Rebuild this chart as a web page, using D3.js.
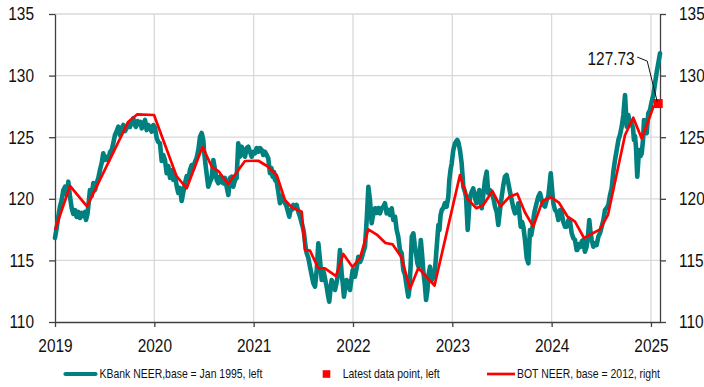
<!DOCTYPE html>
<html>
<head>
<meta charset="utf-8">
<script src="https://cdn.jsdelivr.net/npm/d3@7/dist/d3.min.js"></script>
<style>
  html, body { margin: 0; padding: 0; background: #ffffff; }
  svg { display: block; }
  text { font-family: "Liberation Sans", Arial, sans-serif; fill: #111; }
</style>
</head>
<body>
<svg id="chart" width="704" height="387"></svg>
<script>
// KBank NEER (base = Jan 1995), left axis: [decimal year, index]
const kbankNeer = [
  [2019.000,116.82],[2019.020,117.79],[2019.033,118.55],[2019.050,119.36],[2019.067,119.90],[2019.084,120.70],
  [2019.101,120.98],[2019.118,120.30],[2019.134,121.39],[2019.151,120.17],[2019.168,119.25],[2019.184,118.77],
  [2019.201,119.09],[2019.218,118.52],[2019.235,118.93],[2019.252,118.44],[2019.269,118.85],[2019.285,118.60],
  [2019.302,118.93],[2019.312,118.28],[2019.327,118.77],[2019.342,119.90],[2019.352,120.71],[2019.369,120.23],
  [2019.386,121.28],[2019.403,120.71],[2019.420,121.28],[2019.436,121.69],[2019.453,122.34],[2019.470,122.90],
  [2019.486,123.69],[2019.503,123.15],[2019.520,123.39],[2019.537,123.15],[2019.554,123.80],[2019.571,123.96],
  [2019.587,124.53],[2019.604,125.18],[2019.621,125.50],[2019.637,125.85],[2019.654,125.18],[2019.672,125.75],
  [2019.688,125.99],[2019.705,125.50],[2019.722,125.75],[2019.738,126.07],[2019.755,125.83],[2019.772,126.23],
  [2019.788,126.53],[2019.805,125.99],[2019.815,125.83],[2019.831,126.31],[2019.846,126.07],[2019.861,126.23],
  [2019.873,125.72],[2019.889,126.07],[2019.906,126.40],[2019.923,125.58],[2019.939,125.99],[2019.956,125.83],
  [2019.973,125.45],[2019.990,125.99],[2020.007,125.75],
  [2020.024,124.91],[2020.040,124.61],[2020.057,124.50],[2020.074,123.07],[2020.090,123.56],[2020.107,123.15],
  [2020.124,122.07],[2020.141,122.66],[2020.158,121.69],[2020.175,122.34],[2020.191,121.53],[2020.208,121.93],
  [2020.225,121.04],[2020.241,120.47],[2020.258,120.88],[2020.275,119.82],[2020.292,120.55],[2020.309,121.28],
  [2020.326,121.85],[2020.342,121.53],[2020.359,122.34],[2020.376,122.74],[2020.392,122.50],[2020.409,122.99],
  [2020.426,123.31],[2020.443,123.96],[2020.460,125.04],[2020.477,125.34],[2020.493,124.77],[2020.500,123.96],
  [2020.510,123.15],[2020.527,122.01],[2020.543,120.98],[2020.560,121.37],[2020.577,121.69],[2020.594,123.15],
  [2020.611,122.34],[2020.628,121.53],[2020.644,121.26],[2020.661,121.80],[2020.678,121.37],[2020.694,121.26],
  [2020.711,121.69],[2020.728,120.98],[2020.745,120.31],[2020.762,121.69],[2020.779,121.80],[2020.795,120.98],
  [2020.812,121.53],[2020.829,121.69],[2020.845,124.50],[2020.862,123.42],[2020.879,124.23],[2020.896,123.69],
  [2020.913,123.42],[2020.930,124.12],[2020.946,124.23],[2020.963,123.82],[2020.980,123.42],[2020.996,123.80],
  [2021.013,123.69],[2021.030,124.12],[2021.047,123.82],[2021.064,124.12],[2021.081,123.96],[2021.097,123.56],
  [2021.114,123.82],[2021.131,123.56],[2021.147,123.29],[2021.164,122.07],[2021.179,122.50],[2021.191,121.80],
  [2021.205,122.18],[2021.215,121.53],[2021.232,121.37],[2021.248,120.58],[2021.265,119.64],[2021.282,120.23],
  [2021.299,119.90],[2021.316,119.66],[2021.332,119.36],[2021.346,118.93],[2021.359,118.55],[2021.371,119.09],
  [2021.383,119.09],[2021.399,119.50],[2021.416,119.25],[2021.433,119.50],[2021.450,118.93],[2021.467,118.55],
  [2021.484,118.01],[2021.497,117.63],[2021.507,117.20],[2021.520,116.25],[2021.534,115.58],[2021.551,115.19],
  [2021.567,114.49],[2021.584,113.81],[2021.601,113.14],[2021.618,112.87],[2021.635,114.22],[2021.651,116.39],
  [2021.668,115.03],[2021.685,113.41],[2021.698,114.22],[2021.708,113.95],[2021.721,113.41],[2021.735,112.87],
  [2021.748,112.19],[2021.761,111.65],[2021.773,112.60],[2021.785,113.41],[2021.802,113.00],[2021.819,112.60],
  [2021.836,113.25],[2021.852,113.95],[2021.869,115.84],[2021.886,113.95],[2021.899,113.00],[2021.909,112.05],
  [2021.919,112.60],[2021.936,113.41],[2021.953,113.00],[2021.970,112.60],[2021.983,113.41],[2021.997,114.22],
  [2022.010,114.06],[2022.020,113.68],[2022.037,114.38],[2022.054,115.30],[2022.071,114.87],[2022.087,115.17],
  [2022.104,115.68],[2022.121,116.11],[2022.138,118.28],[2022.155,120.98],[2022.171,119.90],[2022.188,118.01],
  [2022.205,118.82],[2022.222,119.23],[2022.239,118.85],[2022.255,119.25],[2022.272,118.82],[2022.289,119.25],
  [2022.306,119.36],[2022.322,119.64],[2022.339,118.82],[2022.356,119.09],[2022.373,118.69],[2022.390,119.23],
  [2022.406,118.28],[2022.423,118.55],[2022.440,117.47],[2022.456,116.92],[2022.473,115.84],[2022.490,115.58],
  [2022.507,114.22],[2022.524,113.81],[2022.541,112.87],[2022.557,112.05],[2022.567,112.60],[2022.580,114.49],
  [2022.592,116.92],[2022.608,117.20],[2022.622,116.25],[2022.635,115.58],[2022.649,114.76],[2022.659,114.49],
  [2022.676,115.84],[2022.683,116.66],[2022.696,115.44],[2022.710,113.95],[2022.724,113.00],[2022.736,111.79],
  [2022.750,112.60],[2022.760,113.81],[2022.776,114.49],[2022.794,113.41],[2022.810,113.68],[2022.826,114.22],
  [2022.843,116.11],[2022.860,117.87],[2022.870,117.47],[2022.882,118.69],[2022.894,119.09],[2022.910,119.25],
  [2022.926,119.66],[2022.943,119.36],[2022.960,120.17],[2022.970,121.53],[2022.982,122.34],[2022.994,122.88],
  [2023.010,123.96],[2023.027,124.50],[2023.042,124.69],[2023.050,124.77],[2023.060,124.61],[2023.077,123.96],
  [2023.094,122.88],[2023.111,120.98],[2023.128,120.55],[2023.138,120.17],[2023.155,117.47],[2023.168,119.09],
  [2023.178,120.17],[2023.195,120.55],[2023.211,120.85],[2023.228,120.07],[2023.245,119.64],[2023.258,120.31],
  [2023.272,120.71],[2023.284,119.90],[2023.296,119.23],[2023.312,120.31],[2023.329,121.53],[2023.346,122.20],
  [2023.362,120.45],[2023.379,120.71],[2023.396,120.45],[2023.413,120.07],[2023.430,119.36],[2023.447,118.93],
  [2023.463,117.87],[2023.480,119.09],[2023.497,120.17],[2023.514,121.12],[2023.530,121.80],[2023.547,121.93],
  [2023.564,121.26],[2023.581,120.55],[2023.598,119.90],[2023.615,119.25],[2023.631,118.82],[2023.648,118.95],
  [2023.665,119.64],[2023.677,118.69],[2023.689,117.74],[2023.702,118.12],[2023.715,117.74],[2023.732,116.66],
  [2023.749,115.19],[2023.766,114.76],[2023.782,117.47],[2023.795,117.06],[2023.809,117.74],[2023.822,118.69],
  [2023.832,119.09],[2023.849,119.66],[2023.866,120.17],[2023.883,120.45],[2023.900,119.90],[2023.916,119.50],
  [2023.933,119.36],[2023.950,119.90],[2023.966,120.17],[2023.979,121.12],[2023.991,122.07],[2024.001,121.12],
  [2024.011,120.17],[2024.017,119.64],[2024.034,119.09],[2024.051,118.93],[2024.068,118.28],[2024.085,119.09],
  [2024.101,118.82],[2024.118,118.12],[2024.135,117.74],[2024.152,117.74],[2024.169,118.28],[2024.186,118.12],
  [2024.202,117.20],[2024.219,116.79],[2024.235,116.66],[2024.252,115.84],[2024.258,115.84],[2024.275,116.33],
  [2024.292,116.11],[2024.305,116.57],[2024.319,116.66],[2024.335,115.71],[2024.352,116.11],[2024.366,116.98],
  [2024.379,118.28],[2024.391,117.31],[2024.403,116.66],[2024.420,116.11],[2024.437,116.39],[2024.453,116.25],
  [2024.470,116.92],[2024.487,117.22],[2024.504,117.74],[2024.521,118.28],[2024.537,119.09],[2024.554,119.25],
  [2024.571,119.50],[2024.588,120.31],[2024.605,120.88],[2024.621,122.18],[2024.638,123.15],[2024.655,123.96],
  [2024.672,124.77],[2024.688,125.18],[2024.705,125.85],[2024.722,126.80],[2024.739,128.43],[2024.756,125.85],
  [2024.772,126.80],[2024.789,125.99],[2024.806,126.13],[2024.819,125.75],[2024.829,124.77],[2024.839,125.10],
  [2024.849,124.23],[2024.862,121.79],[2024.873,123.15],[2024.883,123.96],[2024.895,123.47],[2024.907,123.69],
  [2024.920,124.77],[2024.930,126.40],[2024.943,125.75],[2024.957,125.32],[2024.973,126.94],[2024.990,127.20],
  [2025.007,127.88],[2025.024,128.43],[2025.041,129.37],[2025.058,130.29],[2025.074,131.00],[2025.091,131.81]
];

// BOT NEER (base = 2012), right axis: [decimal year, index]
const botNeer = [
  [2019.000,117.47],[2019.151,121.04],[2019.322,119.38],[2019.738,126.26],[2019.829,126.86],[2019.997,126.80],
  [2020.223,121.85],[2020.326,120.85],[2020.485,124.23],[2020.578,122.60],[2020.651,122.20],[2020.742,121.20],
  [2020.913,123.07],[2021.047,123.09],[2021.147,122.60],[2021.232,121.93],[2021.315,119.90],[2021.383,119.31],
  [2021.484,118.95],[2021.517,115.84],[2021.567,115.79],[2021.651,114.36],[2021.718,114.36],[2021.829,113.73],
  [2021.902,115.52],[2021.995,114.46],[2022.071,115.20],[2022.154,117.52],[2022.239,117.10],[2022.327,116.41],
  [2022.400,116.30],[2022.486,115.28],[2022.574,112.70],[2022.658,114.38],[2022.821,112.96],[2023.077,121.93],
  [2023.153,119.98],[2023.243,119.23],[2023.312,119.50],[2023.404,120.63],[2023.485,119.36],[2023.576,120.17],
  [2023.654,120.41],[2023.732,118.89],[2023.815,117.74],[2023.908,119.82],[2023.993,120.12],[2024.074,119.68],
  [2024.158,118.58],[2024.235,118.14],[2024.326,116.82],[2024.487,117.52],[2024.567,118.69],[2024.739,125.18],
  [2024.822,126.58],[2024.907,124.90],[2024.983,126.53],[2025.023,127.45],[2025.073,127.73]
];

// Latest data point (left axis)
const latestPoint = [[2025.073, 127.73]];

// Axis ticks
const yearTicks = [2019, 2020, 2021, 2022, 2023, 2024, 2025];
const valueTicks = [110, 115, 120, 125, 130, 135];

// Legend entries
const legendLabels = ["KBank NEER,base = Jan 1995, left", "Latest data point, left", "BOT NEER, base = 2012, right"];

const TEAL = "#00807f", RED = "#ff0000", GRID = "#d9d9d9", AXIS = "#404040";
const FONT_TICK = 18.6, FONT_LEGEND = 12.6, NARROW = 0.83;

const svg = d3.select("#chart");
const m = { left: 55, right: 660, top: 14, bottom: 322 };

const x = d3.scaleLinear().domain([2019, 2025.091]).range([m.left, m.right]);
const yLeft = d3.scaleLinear().domain([110, 135]).range([m.bottom, m.top]);
const yRight = d3.scaleLinear().domain([110, 135]).range([m.bottom, m.top]);

// Narrow-width text: squeeze glyphs horizontally around each text's anchor x
function condense(sel) {
  sel.each(function () {
    const t = d3.select(this);
    const ax = +t.attr("x") || 0;
    t.attr("transform", `translate(${ax},0) scale(${NARROW},1) translate(${-ax},0)`);
  });
}

// Gridlines
const grid = svg.append("g");
grid.selectAll("line.h").data(valueTicks.filter(v => v > 110)).join("line")
  .attr("x1", m.left).attr("x2", m.right)
  .attr("y1", d => yLeft(d)).attr("y2", d => yLeft(d))
  .attr("stroke", GRID).attr("stroke-width", 1.3);
grid.selectAll("line.v").data(yearTicks.filter(v => v > 2019)).join("line")
  .attr("x1", d => x(d)).attr("x2", d => x(d))
  .attr("y1", m.top).attr("y2", m.bottom)
  .attr("stroke", GRID).attr("stroke-width", 1.3);

// Axes
function styleAxis(g) {
  g.select(".domain").attr("stroke", AXIS).attr("stroke-width", 1.3);
  g.selectAll(".tick line").attr("stroke", AXIS).attr("stroke-width", 1.3);
  g.selectAll(".tick text").attr("font-size", FONT_TICK).attr("fill", "#111")
    .attr("font-family", "'Liberation Sans', Arial, sans-serif")
    .call(condense);
}

svg.append("g").attr("transform", `translate(${m.left},0)`)
  .call(d3.axisLeft(yLeft).tickValues(valueTicks).tickSize(6).tickSizeOuter(0).tickPadding(15))
  .call(styleAxis);

svg.append("g").attr("transform", `translate(${m.right},0)`)
  .call(d3.axisRight(yRight).tickValues(valueTicks).tickSize(6).tickSizeOuter(0).tickPadding(13))
  .call(styleAxis);

svg.append("g").attr("transform", `translate(0,${m.bottom})`)
  .call(d3.axisBottom(x).tickValues(yearTicks).tickFormat(d3.format("d")).tickSize(5).tickSizeOuter(0).tickPadding(12))
  .call(styleAxis);

// Series
const kbLine = d3.line().x(d => x(d[0])).y(d => yLeft(d[1]));
const botLine = d3.line().x(d => x(d[0])).y(d => yRight(d[1]));

svg.append("path").datum(kbankNeer)
  .attr("d", kbLine).attr("fill", "none")
  .attr("stroke", TEAL).attr("stroke-width", 4.6)
  .attr("stroke-linejoin", "round").attr("stroke-linecap", "round");

svg.append("path").datum(botNeer)
  .attr("d", botLine).attr("fill", "none")
  .attr("stroke", RED).attr("stroke-width", 2.7)
  .attr("stroke-linejoin", "round");

svg.selectAll("rect.latest").data(latestPoint).join("rect")
  .attr("x", d => x(d[0]) - 4.5).attr("y", d => yLeft(d[1]) - 4.5)
  .attr("width", 9).attr("height", 9).attr("fill", RED);

// Annotation for latest value
const lp = latestPoint[0];
const lx = x(lp[0]), ly = yLeft(lp[1]);
svg.append("path")
  .attr("d", `M${lx - 21},${ly - 46.5} L${lx - 11},${ly - 42.5} L${lx - 1},${ly - 2}`)
  .attr("fill", "none").attr("stroke", "#111").attr("stroke-width", 1);
svg.append("text")
  .attr("x", lx - 23.5).attr("y", ly - 45).attr("dy", "0.36em")
  .attr("text-anchor", "end").attr("font-size", FONT_TICK)
  .text(d3.format(".2f")(lp[1]))
  .call(condense);

// Legend
const lg = svg.append("g").attr("font-size", FONT_LEGEND);
const legY = 374;
lg.append("line").attr("x1", 65.5).attr("x2", 95.5).attr("y1", legY).attr("y2", legY)
  .attr("stroke", TEAL).attr("stroke-width", 4.2).attr("stroke-linecap", "round");
lg.append("rect").attr("x", 322.7).attr("y", legY - 3.8).attr("width", 7.6).attr("height", 7.6).attr("fill", RED);
lg.append("line").attr("x1", 487).attr("x2", 515).attr("y1", legY).attr("y2", legY)
  .attr("stroke", RED).attr("stroke-width", 2.7);
lg.selectAll("text").data(legendLabels).join("text")
  .attr("x", (d, i) => [99.5, 342.7, 517][i]).attr("y", legY).attr("dy", "0.35em")
  .text(d => d)
  .call(condense);
</script>
</body>
</html>
